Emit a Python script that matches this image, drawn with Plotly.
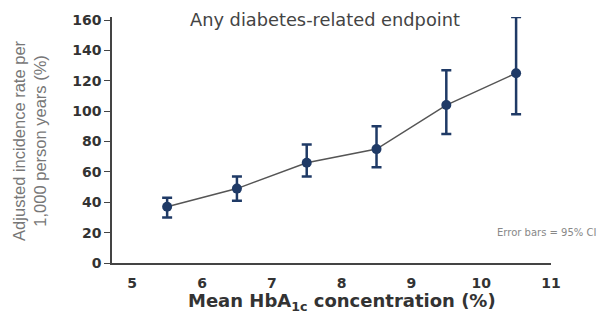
import plotly.graph_objects as go

hba1c = [5.5, 6.5, 7.5, 8.5, 9.5, 10.5]
rate = [37, 49, 66, 75, 104, 125]
ci_upper = [43, 57, 78, 90, 127, 162]
ci_lower = [30, 41, 57, 63, 85, 98]
x_ticks = [5, 6, 7, 8, 9, 10, 11]
y_ticks = [0, 20, 40, 60, 80, 100, 120, 140, 160]

err_plus = [u - v for u, v in zip(ci_upper, rate)]
err_minus = [v - l for v, l in zip(rate, ci_lower)]

navy = "#1f3a66"
fig = go.Figure()
fig.add_trace(go.Scatter(
    x=hba1c, y=rate, mode="lines+markers",
    line=dict(color="#555555", width=1.5),
    marker=dict(color=navy, size=10),
    error_y=dict(type="data", symmetric=False, array=err_plus, arrayminus=err_minus,
                 color=navy, thickness=2.5, width=5),
    showlegend=False,
))

tickfont = dict(family="DejaVu Sans", size=14, color="#333", weight="bold")
fig.update_layout(
    width=602, height=314,
    margin=dict(l=104, r=59, t=9, b=59),
    paper_bgcolor="white", plot_bgcolor="white",
    font=dict(family="DejaVu Sans", color="#333"),
    xaxis=dict(range=[4.71, 11.0], tickvals=x_ticks, showgrid=False, zeroline=False,
               showline=True, linecolor="#444", linewidth=1.5, ticks="",
               ticklabelstandoff=6, tickfont=tickfont, automargin=False),
    yaxis=dict(range=[0, 162], tickvals=y_ticks, showgrid=False, zeroline=False,
               showline=True, linecolor="#444", linewidth=1.5, ticks="outside",
               ticklen=6, tickcolor="#444", tickfont=tickfont, automargin=False),
    annotations=[
        dict(text="Any diabetes-related endpoint", x=0.485, y=0.99, xref="paper", yref="paper",
             xanchor="center", yanchor="middle", showarrow=False,
             font=dict(family="DejaVu Sans", size=17.8, color="#444")),
        dict(text="Mean HbA<sub>1c</sub> concentration (%)", x=0.524, y=-0.158,
             xref="paper", yref="paper", xanchor="center", yanchor="middle", showarrow=False,
             font=dict(family="DejaVu Sans", size=18, color="#333", weight="bold")),
        dict(text="Adjusted incidence rate per<br>1,000 person years (%)", x=-0.187, y=0.496,
             xref="paper", yref="paper", xanchor="center", yanchor="middle", showarrow=False,
             textangle=-90, font=dict(family="Liberation Sans", size=16.5, color="#777")),
        dict(text="Error bars = 95% CI", x=0.872, y=0.125, xref="paper", yref="paper",
             xanchor="left", yanchor="middle", showarrow=False,
             font=dict(family="DejaVu Sans", size=10, color="#888")),
    ],
)
fig.write_html("out.html")
